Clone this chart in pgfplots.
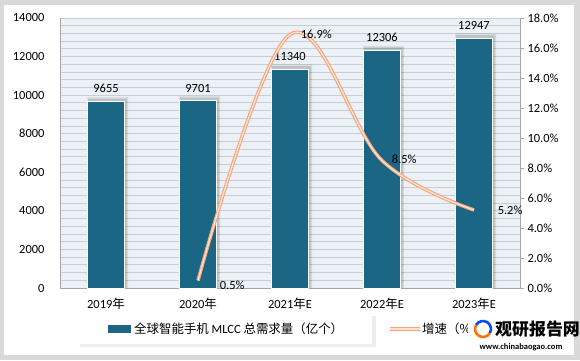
\documentclass[border=0pt]{standalone}
\usepackage{fontspec}
\setmainfont{Carlito}
\newfontfamily\cjk{Noto Sans CJK SC}
\usepackage{pgfplots}
\pgfplotsset{compat=1.18}
\definecolor{barc}{HTML}{1B6585}
\definecolor{linec}{HTML}{F4A57C}
\definecolor{linein}{HTML}{FDE2D2}
\definecolor{bg}{HTML}{EBF1F7}
\definecolor{gridc}{HTML}{C9CED3}
\definecolor{framec}{HTML}{D9D9D9}
\definecolor{axc}{HTML}{A6A6A6}
\begin{document}
\begin{tikzpicture}[x=1bp,y=1bp]
\fill[framec] (0,0) rectangle (580,360);
\fill[white] (4,5) rectangle (574,355);
\begin{axis}[at={(60bp,72bp)}, anchor=south west, scale only axis,
  width=460bp, height=270bp,
  xmin=-0.5, xmax=4.5, ymin=0, ymax=14000,
  ytick={0,2000,...,14000}, minor y tick num=4,
  scaled y ticks=false,
  ymajorgrids, yminorgrids,
  major grid style={gridc, line width=0.9bp},
  minor grid style={gridc, line width=0.9bp},
  axis background/.style={fill=bg},
  xtick={0,...,4},
  xticklabels={2019{\cjk 年},2020{\cjk 年},2021{\cjk 年}E,2022{\cjk 年}E,2023{\cjk 年}E},
  axis x line*=bottom, axis y line*=left,
  axis line style={axc, line width=0.8bp},
  tick style={draw=none},
  /pgf/number format/assume math mode=true,
  /pgf/number format/set thousands separator={},
  tick label style={font=\fontsize{12.5}{14}\selectfont, black},
  yticklabel style={xshift=-12bp},
  xticklabel style={yshift=-6bp},
  clip=false,
]
\addplot[ybar, bar shift=1.5bp, bar width=41bp, fill=black, fill opacity=0.08, draw=none] coordinates {(0,9905) (1,9951) (2,11590) (3,12556) (4,13197)};
\addplot[ybar, bar shift=1.5bp, bar width=39bp, fill=black, fill opacity=0.12, draw=none] coordinates {(0,9820) (1,9866) (2,11505) (3,12471) (4,13112)};
\addplot[ybar, bar shift=0bp, bar width=37bp, fill=barc, draw=white, line width=1bp,
  nodes near coords, every node near coord/.append style={font=\fontsize{12.5}{14}\selectfont, black, yshift=5bp},
  /pgf/number format/assume math mode=true]
  coordinates {(0,9655) (1,9701) (2,11340) (3,12306) (4,12947)};
\end{axis}
\begin{axis}[at={(60bp,72bp)}, anchor=south west, scale only axis,
  width=460bp, height=270bp,
  xmin=-0.5, xmax=4.5, ymin=0, ymax=18,
  ytick={0,2,...,18},
  axis y line*=right, axis x line=none,
  axis line style={axc, line width=0.8bp},
  tick align=outside, major tick length=4bp,
  ytick style={axc, line width=0.8bp},
  /pgf/number format/assume math mode=true,
  yticklabel={\pgfmathprintnumber[fixed,fixed zerofill,precision=1]{\tick}\%},
  tick label style={font=\fontsize{12.5}{14}\selectfont, black},
  clip=false,
]
\addplot[smooth, tension=0.6, draw=linec, line width=1.1bp, double=linein, double distance=1.3bp]
  coordinates {(1,0.5) (2,16.9) (3,8.5) (4,5.2)};
\node[font=\fontsize{12.5}{14}\selectfont, anchor=west] at (axis cs:1.2,0.2) {0.5\%};
\node[font=\fontsize{12.5}{14}\selectfont, anchor=west] at (axis cs:2.08,16.9) {16.9\%};
\node[font=\fontsize{12.5}{14}\selectfont, anchor=west] at (axis cs:3.07,8.55) {8.5\%};
\node[font=\fontsize{12.5}{14}\selectfont, anchor=west] at (axis cs:4.22,5.2) {5.2\%};
\end{axis}
% legend
\fill[black, opacity=0.07] (80,13) rectangle (376,44);
\fill[white] (76,16) rectangle (372,46);
\fill[barc] (108,27.5) rectangle (131,35);
\node[anchor=west, font=\cjk\fontsize{12.5}{14}\selectfont, inner sep=0] at (134,31) {全球智能手机 \fontspec{Carlito}MLCC \cjk 总需求量（亿个）};
\draw[linec, line width=1.1bp, double=linein, double distance=1.3bp] (390,31) -- (420,31);
\node[anchor=west, font=\cjk\fontsize{12.5}{14}\selectfont, inner sep=0] at (422,31) {增速（\%）};
% watermark
\fill[white] (468,8) rectangle (574,44);
\draw[orange!90!red, line width=2.6bp] (483,31) ++(150:8) arc (150:330:8);
\draw[blue!70!cyan, line width=2.6bp] (483,31) ++(330:8) arc (-30:150:8);
\node[anchor=west, font=\cjk\bfseries\fontsize{17}{19}\selectfont, inner sep=0] at (495,31) {观研报告网};
\node[anchor=center, font=\bfseries\fontsize{8.5}{10}\selectfont, inner sep=0] at (521,13) {www.chinabaogao.com};
\end{tikzpicture}
\end{document}
